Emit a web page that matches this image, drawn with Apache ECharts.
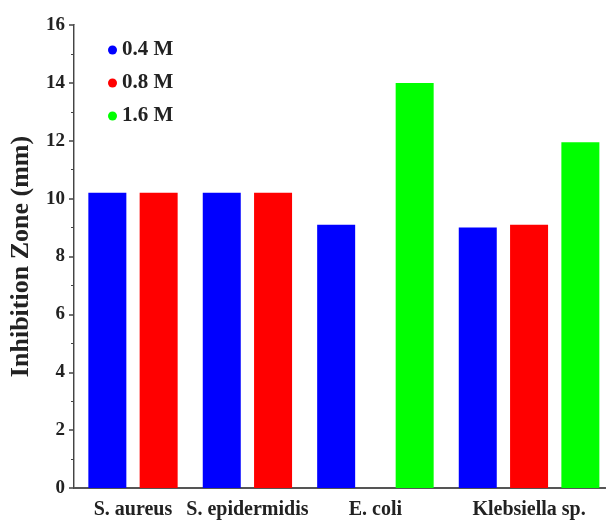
<!DOCTYPE html>
<html>
<head>
<meta charset="utf-8">
<script src="https://cdn.jsdelivr.net/npm/echarts@6/dist/echarts.min.js"></script>
<style>
  html, body { margin: 0; padding: 0; background: #fff; }
  #chart { width: 607px; height: 523px; }
</style>
</head>
<body>
<div id="chart"></div>
<script>
// bacteria strains on the x axis
const categories = ["S. aureus", "S. epidermidis", "E. coli", "Klebsiella sp."];
const seriesNames = ["0.4 M", "0.8 M", "1.6 M"];
// inhibition zone (mm), null = not tested
const conc04 = [10.2, 10.2, 9.1, 9.0];
const conc08 = [10.2, 10.2, null, 9.1];
const conc16 = [null, null, 14.0, 11.95];
const yTicks = [0, 2, 4, 6, 8, 10, 12, 14, 16];

const colors = ["#0000ff", "#ff0000", "#00ff00"];
const FONT = "Liberation Serif";

// bars are packed: missing bars are dropped, a missing bar inside a group leaves a half gap
const START = 0.65;
const GROUP_GAP = 0.23;
const HOLE = 0.53;
const X_MAX = 10.35;

const seriesValues = [conc04, conc08, conc16];
const seriesData = seriesValues.map(() => []);
const labelPos = [];
let cursor = START;
categories.forEach((cat, ci) => {
	const present = seriesValues
		.map((vals, si) => (vals[ci] != null ? si : -1))
		.filter((si) => si >= 0);
	const xs = [];
	present.forEach((si, k) => {
		if (k > 0) cursor += 1 + (si - present[k - 1] > 1 ? HOLE : 0);
		seriesData[si].push([cursor, seriesValues[si][ci]]);
		xs.push(cursor);
	});
	labelPos.push((xs[0] + xs[xs.length - 1]) / 2);
	cursor += 1 + GROUP_GAP;
});

const nearestCategory = (v) => {
	let best = 0;
	labelPos.forEach((p, i) => {
		if (Math.abs(p - v) < Math.abs(labelPos[best] - v)) best = i;
	});
	return categories[best];
};

const chart = echarts.init(document.getElementById("chart"));
chart.setOption({
	animation: false,
	textStyle: { fontFamily: FONT, fontWeight: "bold", color: "#222" },
	grid: { left: 72, right: 2, top: 25, bottom: 35 },
	legend: {
		orient: "vertical",
		left: 108,
		top: 39,
		padding: 0,
		itemGap: 11,
		itemWidth: 9,
		itemHeight: 9,
		icon: "circle",
		data: seriesNames,
		textStyle: {
			fontFamily: FONT,
			fontWeight: "bold",
			fontSize: 21,
			lineHeight: 22,
			color: "#222",
		},
	},
	xAxis: [
		{
			type: "value",
			min: 0,
			max: X_MAX,
			splitLine: { show: false },
			axisLine: { lineStyle: { color: "#444", width: 2 } },
			axisTick: { show: false },
			axisLabel: {
				customValues: labelPos,
				formatter: (v) => nearestCategory(v),
				margin: 12,
				fontFamily: FONT,
				fontWeight: "bold",
				fontSize: 20,
				color: "#222",
			},
		},
		{
			type: "value",
			position: "top",
			min: 0,
			max: X_MAX,
			splitLine: { show: false },
			axisLine: { show: true, lineStyle: { color: "#555", width: 2 } },
			axisTick: { show: false },
			axisLabel: { show: false },
		},
	],
	yAxis: [
		{
			type: "value",
			min: yTicks[0],
			max: yTicks[yTicks.length - 1],
			interval: 2,
			name: "Inhibition Zone (mm)",
			nameLocation: "middle",
			nameRotate: 90,
			nameGap: 40,
			nameTextStyle: {
				fontFamily: FONT,
				fontWeight: "bold",
				fontSize: 26,
				color: "#222",
			},
			splitLine: { show: false },
			axisLine: { show: true, lineStyle: { color: "#444", width: 2 } },
			axisTick: { show: true, length: 5, lineStyle: { color: "#444", width: 1.5 } },
			minorTick: { show: true, splitNumber: 2, length: 3, lineStyle: { color: "#444" } },
			axisLabel: {
				margin: 9,
				fontFamily: FONT,
				fontWeight: "bold",
				fontSize: 19,
				color: "#222",
			},
		},
		{
			type: "value",
			position: "right",
			min: 0,
			max: 16,
			splitLine: { show: false },
			axisLine: { show: true, lineStyle: { color: "#aaa", width: 1 } },
			axisTick: { show: false },
			axisLabel: { show: false },
		},
	],
	series: seriesNames.map((name, si) => ({
		name,
		type: "bar",
		barWidth: 38,
		barGap: "-100%",
		itemStyle: { color: colors[si] },
		data: seriesData[si],
	})),
});
</script>
</body>
</html>
